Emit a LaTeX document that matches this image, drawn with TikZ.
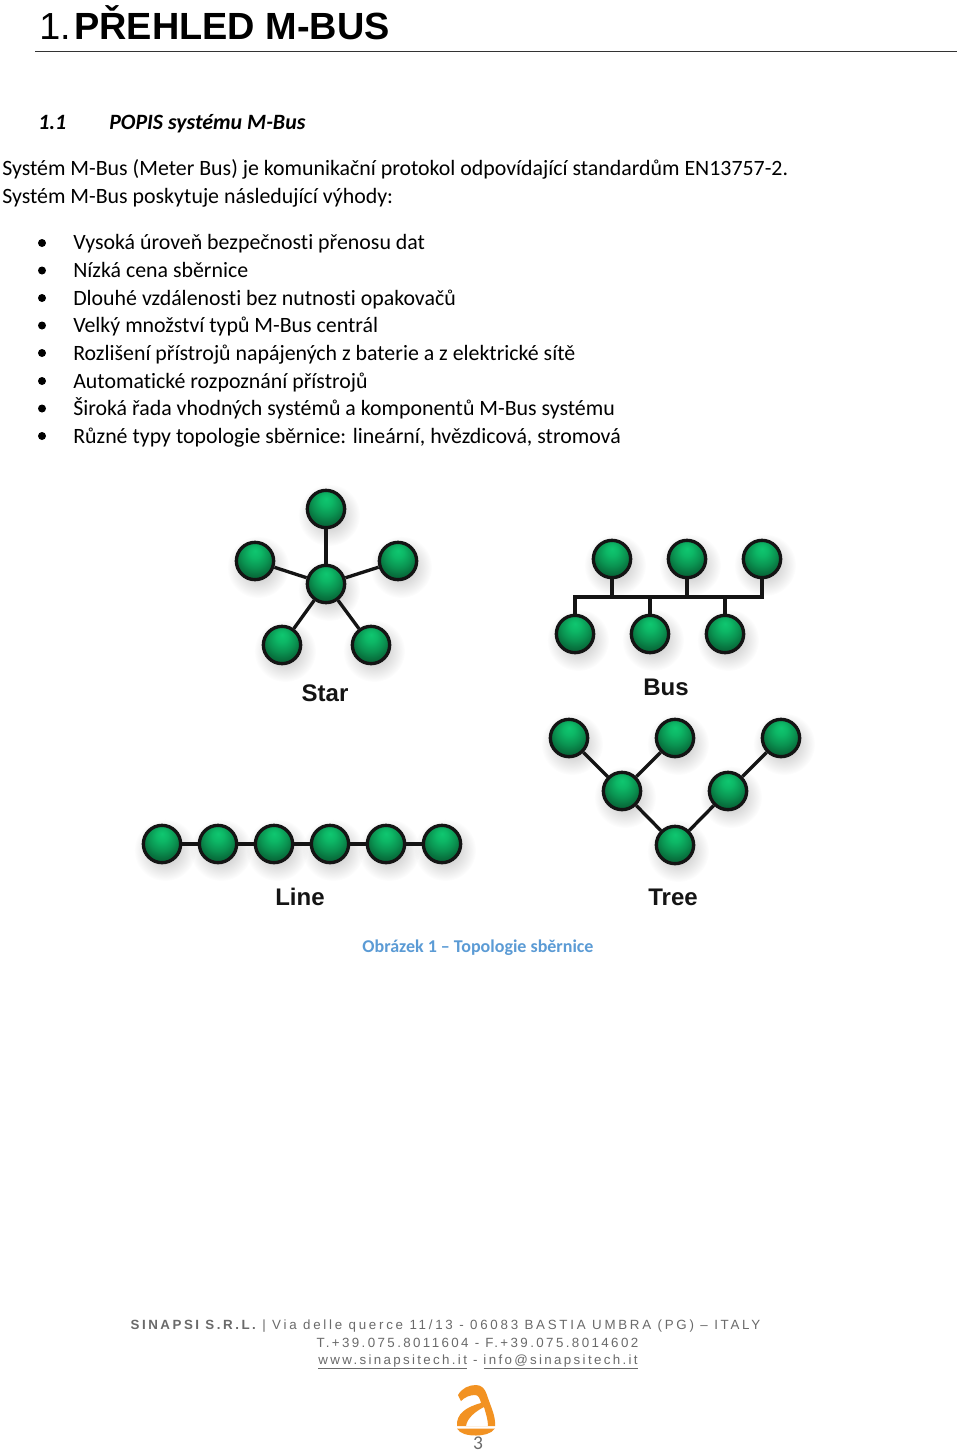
\documentclass[tikz,border=0pt]{standalone}
\usepackage{fontspec}
\setmainfont{Carlito}[Ligatures={TeX,NoCommon}]
\newfontfamily\arialf{Liberation Sans}
\usetikzlibrary{fadings}
\definecolor{capblue}{HTML}{5B9BD5}
\definecolor{footgray}{HTML}{6A6A6A}
\definecolor{logoorange}{HTML}{F29222}
\pgfdeclareradialshading{ballgreen}{\pgfpoint{0bp}{14bp}}{%
  rgb(0bp)=(0.06,0.78,0.44);
  rgb(8bp)=(0.05,0.72,0.40);
  rgb(18bp)=(0.04,0.58,0.32);
  rgb(26bp)=(0.03,0.44,0.24);
  rgb(36bp)=(0.02,0.30,0.16);
  rgb(50bp)=(0.02,0.22,0.12)}
\tikzfading[name=softdisc, inner color=transparent!45, outer color=transparent!100]
\tikzset{
  ball/.style={circle,minimum size=28pt,inner sep=0pt,draw=black!92,line width=2.5pt,shading=ballgreen},
  link/.style={draw=black!92,line width=2.5pt},
  body/.style={anchor=base west,inner sep=0pt,font=\fontsize{16.4pt}{19pt}\selectfont},
  topo/.style={inner sep=0pt,text=black!92,font=\arialf\bfseries\fontsize{18pt}{20pt}\selectfont},
  foot/.style={inner sep=0pt,anchor=base,text=footgray},
  bulletdot/.style={circle,fill=black,inner sep=0pt,minimum size=6pt},
  halo/.style={gray,path fading=softdisc}
}
\newcommand{\halo}[2]{\fill[halo] (#1+3,#2+6) circle[radius=31];}
\begin{document}
\begin{tikzpicture}[x=0.75pt,y=-0.75pt]
\useasboundingbox (0,0) rectangle (960,1453);
\fill[white] (0,0) rectangle (960,1453);

% heading
\node[anchor=base west,inner sep=0pt,font=\arialf\fontsize{28.3pt}{32pt}\selectfont] (hnum) at (39,39) {1.};
\node[anchor=base west,inner sep=0pt,font=\arialf\bfseries\fontsize{28.4pt}{32pt}\selectfont] (htitle) at (74,39) {PŘEHLED M-BUS};
\coordinate (ruleL) at (35,51);
\coordinate (ruleR) at (957,51);
\draw[line width=0.75pt,black!80] (ruleL) -- (ruleR);

\node[body,font=\fontsize{16.4pt}{19pt}\selectfont\bfseries\itshape] (secnum) at (38,129) {1.1};
\node[body,font=\fontsize{16.4pt}{19pt}\selectfont\bfseries\itshape] (sectitle) at (109,129) {POPIS systému M-Bus};

\node[body] (p1) at (2,175.8) {Systém M-Bus (Meter Bus) je komunikační protokol odpovídající standardům EN13757-2.};
\node[body] (p2) at (2,203.8) {Systém M-Bus poskytuje následující výhody:};

\node[body] (l1) at (73,249.8) {Vysoká úroveň bezpečnosti přenosu dat};
\node[body] (l2) at (73,277.5) {Nízká cena sběrnice};
\node[body] (l3) at (73,305.2) {Dlouhé vzdálenosti bez nutnosti opakovačů};
\node[body] (l4) at (73,332.8) {Velký množství typů M-Bus centrál};
\node[body] (l5) at (73,360.5) {Rozlišení přístrojů napájených z baterie a z elektrické sítě};
\node[body] (l6) at (73,388.1) {Automatické rozpoznání přístrojů};
\node[body] (l7) at (73,415.8) {Široká řada vhodných systémů a komponentů M-Bus systému};
\node[body] (l8) at (73,443.5) {Různé typy topologie sběrnice: lineární, hvězdicová, stromová};
\foreach \yy/\nn in {243/1,270.5/2,298/3,325.5/4,353/5,381/6,408.5/7,436/8}
  \node[bulletdot] (dot\nn) at (42,\yy) {};

% shadows
\foreach \xx/\yy in {326/509,255/561,398/561,326/584,282/645,371/645,
  612/559,687/559,762/559,575/634,650/634,725/634,
  569/738,675/738,781/738,622/791,728/791,675/845,
  162/844,218/844,274/844,330/844,386/844,442/844}
  {\halo{\xx}{\yy}}

% star
\node[ball] (sc) at (326,584) {};
\node[ball] (s1) at (326,509) {};
\node[ball] (s2) at (255,561) {};
\node[ball] (s3) at (398,561) {};
\node[ball] (s4) at (282,645) {};
\node[ball] (s5) at (371,645) {};
\foreach \t in {s1,s2,s3,s4,s5} \draw[link] (sc) -- (\t);
\node[topo] (star) at (325,693) {Star};

% bus
\node[ball] (b1) at (612,559) {};
\node[ball] (b2) at (687,559) {};
\node[ball] (b3) at (762,559) {};
\node[ball] (b4) at (575,634) {};
\node[ball] (b5) at (650,634) {};
\node[ball] (b6) at (725,634) {};
\coordinate (busL) at (575,597);
\coordinate (busR) at (762,597);
\draw[link] (b4) -- (busL) -- (busR) -- (b3);
\draw[link] (b1) -- (b1 |- busL);
\draw[link] (b2) -- (b2 |- busL);
\draw[link] (b5) -- (b5 |- busL);
\draw[link] (b6) -- (b6 |- busL);
\node[topo] (bus) at (666,687) {Bus};

% tree
\node[ball] (t1) at (569,738) {};
\node[ball] (t2) at (675,738) {};
\node[ball] (t3) at (781,738) {};
\node[ball] (t4) at (622,791) {};
\node[ball] (t5) at (728,791) {};
\node[ball] (t6) at (675,845) {};
\draw[link] (t1) -- (t4);
\draw[link] (t2) -- (t4);
\draw[link] (t3) -- (t5);
\draw[link] (t4) -- (t6);
\draw[link] (t5) -- (t6);
\node[topo] (tree) at (673,897) {Tree};

% line
\node[ball] (n1) at (162,844) {};
\node[ball] (n2) at (218,844) {};
\node[ball] (n3) at (274,844) {};
\node[ball] (n4) at (330,844) {};
\node[ball] (n5) at (386,844) {};
\node[ball] (n6) at (442,844) {};
\draw[link] (n1) -- (n2);
\draw[link] (n2) -- (n3);
\draw[link] (n3) -- (n4);
\draw[link] (n4) -- (n5);
\draw[link] (n5) -- (n6);
\node[topo] (linelab) at (300,897) {Line};

\node[anchor=base,inner sep=0pt,text=capblue,font=\fontsize{13.5pt}{15pt}\selectfont\bfseries] (cap) at (478,952.5) {Obrázek 1 – Topologie sběrnice};

% footer
\node[foot,font=\arialf\fontsize{10pt}{12pt}\selectfont\addfontfeatures{LetterSpace=20.5}] (f1) at (445.5,1329.5) {{\addfontfeatures{LetterSpace=19}\bfseries SINAPSI S.R.L.} | Via delle querce 11/13 - 06083 BASTIA UMBRA (PG) – ITALY};
\node[foot,font=\arialf\fontsize{10pt}{12pt}\selectfont\addfontfeatures{LetterSpace=18}] (f2) at (477.5,1347) {T.+39.075.8011604 - F.+39.075.8014602};
\node[foot,font=\arialf\fontsize{10pt}{12pt}\selectfont\addfontfeatures{LetterSpace=17.5}] (f3) at (478,1364) {\underline{www.sinapsitech.it} - \underline{info@sinapsitech.it}};

% logo
\fill[logoorange,even odd rule]
  (458,1395) .. controls (462,1388) and (469,1385) .. (476,1385)
  .. controls (482,1385) and (485,1389) .. (487,1395)
  .. controls (490,1405) and (496,1416) .. (495,1426)
  -- (457,1426)
  .. controls (456,1414) and (466,1407) .. (481,1403)
  .. controls (480,1398) and (478,1395) .. (475,1395)
  .. controls (470,1395) and (465,1397) .. (461,1401) -- cycle
  (466,1426) .. controls (467,1418) and (476,1411) .. (484,1407)
  .. controls (486,1414) and (488,1420) .. (488,1426) -- cycle;
\fill[logoorange] (457,1428.5) -- (495,1428.5) .. controls (491,1434) and (483,1435.5) .. (476,1435.5)
  .. controls (468,1435.5) and (460,1434) .. (457,1428.5) -- cycle;
\node[anchor=base,inner sep=0pt,text=footgray,font=\fontsize{14.6pt}{17pt}\selectfont] (pg) at (478,1449.5) {3};
\end{tikzpicture}
\end{document}
